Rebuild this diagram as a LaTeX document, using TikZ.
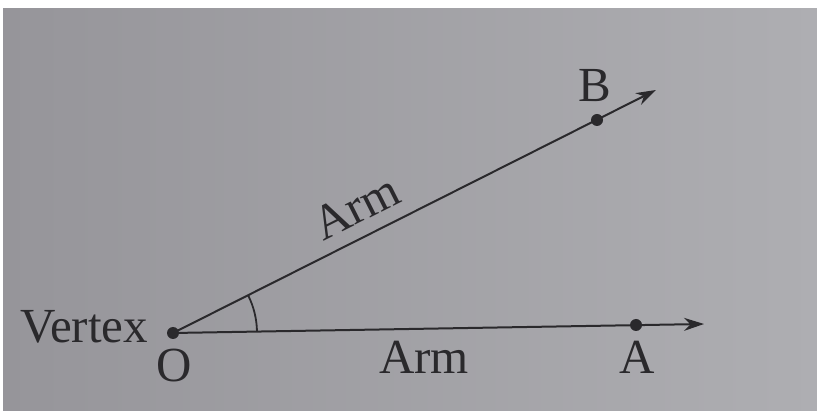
\documentclass[tikz,border=0pt]{standalone}
\usepackage{fontspec}
\setmainfont{Liberation Serif}
\usetikzlibrary{arrows.meta, positioning, calc}
\definecolor{ink}{HTML}{2A292C}
\definecolor{paperdk}{HTML}{96959A}
\definecolor{paperlt}{HTML}{AEAEB2}

\begin{document}
\begin{tikzpicture}[x=1pt, y=-1pt, >={Stealth[length=20pt, width=13pt]}, line width=2pt,
  ray/.style={draw=ink, ->, line width=2pt},
  dot/.style={circle, fill=ink, inner sep=0pt, minimum size=12pt},
  lbl/.style={text=ink, font=\fontsize{49}{52}\selectfont, inner sep=0pt}]

% Background (photo of the page)
\useasboundingbox (0,0) rectangle (817,411);
\fill[white] (0,0) rectangle (817,411);
\shade[left color=paperdk, right color=paperlt] (3,9) rectangle (817,411);

% Vertex and points
\coordinate (O) at (173,333);
\coordinate (Aend) at (704,324);
\coordinate (Bend) at (656,90);
\node[dot] (Odot) at (O) {};
\node[dot] (Adot) at (636,325) {};
\node[dot] (Bdot) at (597,120) {};

% Arms
\draw[ray] (O) -- (Aend);
\draw[ray] (O) -- (Bend);

% Angle mark
\draw[ink, line width=1.8pt] ($(O)!84pt!(Aend)$) arc[start angle=0.9, end angle=26.7, radius=84pt];

% Labels
\node[lbl] (vtx) at (84,327) {Vertex};
\node[lbl] (lblO) at (174,366) {O};
\node[lbl] (lblA) at (637,357) {A};
\node[lbl] (lblB) at (595,86) {B};
\node[lbl] (armA) at (424,357) {Arm};
\node[lbl, rotate=26.7] (armB) at (356,207) {Arm};

\end{tikzpicture}
\end{document}
